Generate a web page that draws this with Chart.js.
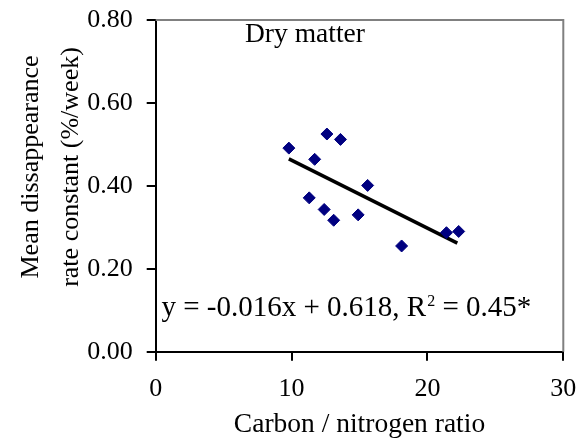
<!DOCTYPE html>
<html>
<head>
<meta charset="utf-8">
<script src="https://cdn.jsdelivr.net/npm/chart.js@4/dist/chart.umd.min.js"></script>
<style>
    body { margin: 0; background: #ffffff; }
    #wrap { width: 585px; height: 443px; }
</style>
</head>
<body>
<div id="wrap"><canvas id="dmChart" width="585" height="443"></canvas></div>
<script>
// values
const cnRatio = [9.8, 12.6, 13.6, 11.7, 15.6, 11.3, 12.4, 13.1, 14.9, 18.1, 21.4, 22.3];
const rateConst = [0.491, 0.525, 0.512, 0.464, 0.401, 0.371, 0.343, 0.317, 0.330, 0.255, 0.287, 0.290];
const trendX = [9.8, 22.2];
const trendY = [0.465, 0.262];
const xTicks = [0, 10, 20, 30];
const yTickLabels = ['0.00', '0.20', '0.40', '0.60', '0.80'];

const serif = "'Liberation Serif', 'Times New Roman', serif";

// frame, titles and notes drawn on top
const notesPlugin = {
    id: 'notes',
    afterDraw(chart) {
        const ctx = chart.ctx;
        const area = chart.chartArea;
        ctx.save();

        // grey top and right frame
        ctx.strokeStyle = '#808080';
        ctx.lineWidth = 2;
        ctx.beginPath();
        ctx.moveTo(area.left, area.top);
        ctx.lineTo(area.right, area.top);
        ctx.lineTo(area.right, area.bottom);
        ctx.stroke();

        ctx.fillStyle = '#000000';
        ctx.textBaseline = 'alphabetic';

        // Dry matter label
        ctx.font = '27.5px ' + serif;
        ctx.textAlign = 'left';
        ctx.fillText('Dry matter', 245, 41.5);

        // regression equation
        ctx.font = '29px ' + serif;
        let x = 161.5;
        const base = 316;
        const part1 = 'y = -0.016x + 0.618, R';
        ctx.fillText(part1, x, base);
        x += ctx.measureText(part1).width;
        ctx.font = '16px ' + serif;
        ctx.fillText('2', x + 1, base - 10);
        x += ctx.measureText('2').width + 1;
        ctx.font = '29px ' + serif;
        ctx.fillText(' = 0.45*', x, base);

        // y axis title, two lines
        ctx.font = '26px ' + serif;
        ctx.textAlign = 'center';
        const yLines = ['Mean dissappearance', 'rate constant (%/week)'];
        const baselines = [38, 78];
        yLines.forEach((line, i) => {
            ctx.save();
            ctx.translate(baselines[i], 167);
            ctx.rotate(-Math.PI / 2);
            ctx.fillText(line, 0, 0);
            ctx.restore();
        });

        ctx.restore();
    }
};

const ctx = document.getElementById('dmChart');

new Chart(ctx, {
    type: 'scatter',
    data: {
        datasets: [{
            label: 'Dry matter',
            data: cnRatio.map((c, i) => ({ x: c, y: rateConst[i] })),
            pointStyle: 'rectRot',
            pointRadius: 6,
            pointBackgroundColor: '#000080',
            pointBorderColor: '#000080',
            pointBorderWidth: 1,
            order: 1
        }, {
            label: 'Trend',
            data: trendX.map((t, i) => ({ x: t, y: trendY[i] })),
            showLine: true,
            borderColor: '#000000',
            borderWidth: 3.5,
            pointRadius: 0,
            fill: false,
            order: 2
        }]
    },
    options: {
        responsive: false,
        animation: false,
        layout: {
            padding: { left: 0, right: 21.7, top: 20, bottom: 0 }
        },
        plugins: {
            legend: { display: false },
            tooltip: { enabled: false }
        },
        scales: {
            x: {
                type: 'linear',
                min: xTicks[0],
                max: xTicks[xTicks.length - 1],
                afterBuildTicks: (scale) => {
                    scale.ticks = xTicks.map(v => ({ value: v }));
                },
                afterFit: (scale) => {
                    scale.height = 91.3;
                    scale.paddingLeft = 5;
                    scale.paddingRight = 5;
                },
                border: { color: '#000000', width: 2 },
                grid: {
                    drawOnChartArea: false,
                    drawTicks: true,
                    tickLength: 9,
                    tickColor: '#000000',
                    lineWidth: 2
                },
                ticks: {
                    color: '#000000',
                    padding: 13,
                    maxRotation: 0,
                    font: { family: serif, size: 26 }
                },
                title: {
                    display: true,
                    text: 'Carbon / nitrogen ratio',
                    color: '#000000',
                    padding: { top: 0, bottom: 1.5 },
                    font: { family: serif, size: 27.5 }
                }
            },
            y: {
                type: 'linear',
                min: 0,
                max: 0.8,
                afterBuildTicks: (scale) => {
                    scale.ticks = yTickLabels.map(v => ({ value: parseFloat(v) }));
                },
                afterFit: (scale) => {
                    scale.width = 155.7;
                    scale.paddingTop = 10;
                    scale.paddingBottom = 10;
                },
                border: { color: '#000000', width: 2 },
                grid: {
                    drawOnChartArea: false,
                    drawTicks: true,
                    tickLength: 9,
                    tickColor: '#000000',
                    lineWidth: 2
                },
                ticks: {
                    color: '#000000',
                    padding: 14,
                    font: { family: serif, size: 26 },
                    callback: (value, index) => yTickLabels[index]
                }
            }
        }
    },
    plugins: [notesPlugin]
});
</script>
</body>
</html>
